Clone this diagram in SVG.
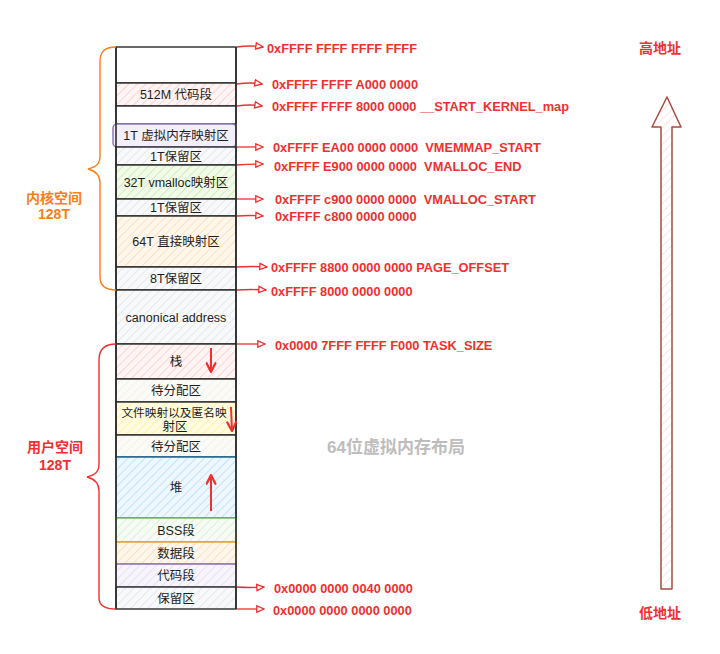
<svg xmlns="http://www.w3.org/2000/svg" width="720" height="654" viewBox="0 0 720 654">
<style>
.lbl{font-family:"Liberation Sans","Noto Sans CJK SC",sans-serif;font-size:12.5px;fill:#1e1e1e;text-anchor:middle}
.addr{font-family:"Liberation Sans","Noto Sans CJK SC",sans-serif;font-size:12.8px;fill:#f0302f;font-weight:bold;white-space:pre}
.seg{stroke:#2b2b2b;stroke-width:1.4}
.ca{fill:none;stroke:#f0302f;stroke-width:1.3}
.ia{fill:none;stroke:#f0302f;stroke-width:2}
.side{font-family:"Liberation Sans","Noto Sans CJK SC",sans-serif;font-size:14px;font-weight:bold;text-anchor:middle}
</style>
<defs>
<pattern id="hPink" width="6" height="6" patternUnits="userSpaceOnUse" patternTransform="rotate(45)"><rect width="6" height="6" fill="#fff5f5"/><line x1="0" y1="0" x2="0" y2="6" stroke="#ffc9c9" stroke-width="1.6"/></pattern>
<pattern id="hGray" width="6" height="6" patternUnits="userSpaceOnUse" patternTransform="rotate(45)"><rect width="6" height="6" fill="#f8f9fa"/><line x1="0" y1="0" x2="0" y2="6" stroke="#dee2e6" stroke-width="1.4"/></pattern>
<pattern id="hLight" width="6" height="6" patternUnits="userSpaceOnUse" patternTransform="rotate(45)"><rect width="6" height="6" fill="#fbfaf6"/><line x1="0" y1="0" x2="0" y2="6" stroke="#efefe9" stroke-width="1.4"/></pattern>
<pattern id="hGreen" width="6" height="6" patternUnits="userSpaceOnUse" patternTransform="rotate(45)"><rect width="6" height="6" fill="#f2fbe9"/><line x1="0" y1="0" x2="0" y2="6" stroke="#c9eab0" stroke-width="1.6"/></pattern>
<pattern id="hGreen2" width="6" height="6" patternUnits="userSpaceOnUse" patternTransform="rotate(45)"><rect width="6" height="6" fill="#f6fbf4"/><line x1="0" y1="0" x2="0" y2="6" stroke="#d6ecd2" stroke-width="1.4"/></pattern>
<pattern id="hOrange" width="6" height="6" patternUnits="userSpaceOnUse" patternTransform="rotate(45)"><rect width="6" height="6" fill="#fff6ec"/><line x1="0" y1="0" x2="0" y2="6" stroke="#ffdcb6" stroke-width="1.6"/></pattern>
<pattern id="hYellow" width="6" height="6" patternUnits="userSpaceOnUse" patternTransform="rotate(45)"><rect width="6" height="6" fill="#fffbe0"/><line x1="0" y1="0" x2="0" y2="6" stroke="#fff099" stroke-width="1.6"/></pattern>
<pattern id="hBlue" width="6" height="6" patternUnits="userSpaceOnUse" patternTransform="rotate(45)"><rect width="6" height="6" fill="#eef7ff"/><line x1="0" y1="0" x2="0" y2="6" stroke="#b9ddf7" stroke-width="1.6"/></pattern>
<pattern id="hPurple" width="6" height="6" patternUnits="userSpaceOnUse" patternTransform="rotate(45)"><rect width="6" height="6" fill="#f7f4fc"/><line x1="0" y1="0" x2="0" y2="6" stroke="#e2dbf0" stroke-width="1.4"/></pattern>
<pattern id="hRose" width="6" height="6" patternUnits="userSpaceOnUse" patternTransform="rotate(45)"><rect width="6" height="6" fill="#fff"/><line x1="0" y1="0" x2="0" y2="6" stroke="#ffe0e0" stroke-width="1.8"/></pattern>
<marker id="ah" viewBox="0 0 10 10" refX="9" refY="5" markerWidth="9" markerHeight="9" markerUnits="userSpaceOnUse" orient="auto"><path d="M1,1.5 L9,5 L1,8.5 Z" fill="#fff" stroke="#f0302f" stroke-width="1.5"/></marker>
<marker id="ih" viewBox="0 0 10 10" refX="9" refY="5" markerWidth="11" markerHeight="11" markerUnits="userSpaceOnUse" orient="auto"><path d="M1,1 L9,5 L1,9" fill="none" stroke="#f0302f" stroke-width="2" stroke-linecap="round" stroke-linejoin="round"/></marker>
</defs>
<rect width="720" height="654" fill="#ffffff"/>

<g id="seg-top"><rect class="seg" x="116" y="47" width="120" height="36" fill="#ffffff"/></g>
<g id="seg-kcode"><rect class="seg" x="116" y="83" width="120" height="23" fill="url(#hPink)"/><text class="lbl" x="176" y="99">512M 代码段</text></g>
<g id="seg-gap"><rect class="seg" x="116" y="106" width="120" height="18" fill="#ffffff"/></g>
<g id="seg-vmemmap"><rect x="113" y="124" width="123" height="23" rx="4" fill="#f2eefa" stroke="#8f7ab8" stroke-width="1.5"/><text class="lbl" x="176" y="140">1T 虚拟内存映射区</text></g>
<g id="seg-rsv1"><rect class="seg" x="116" y="147" width="120" height="18" fill="url(#hGray)"/><text class="lbl" x="176" y="161">1T保留区</text></g>
<g id="seg-vmalloc"><rect class="seg" x="116" y="165" width="120" height="34" fill="url(#hGreen)"/><text class="lbl" x="176" y="187">32T vmalloc映射区</text></g>
<g id="seg-rsv2"><rect class="seg" x="116" y="199" width="120" height="17" fill="url(#hGray)"/><text class="lbl" x="176" y="212">1T保留区</text></g>
<g id="seg-direct"><rect class="seg" x="116" y="216" width="120" height="51" fill="url(#hOrange)"/><text class="lbl" x="176" y="246">64T 直接映射区</text></g>
<g id="seg-rsv8"><rect class="seg" x="116" y="267" width="120" height="23" fill="url(#hGray)"/><text class="lbl" x="176" y="283">8T保留区</text></g>
<g id="seg-canonical"><rect class="seg" x="116" y="290" width="120" height="54" fill="url(#hGray)"/><text class="lbl" x="176" y="322">canonical address</text></g>
<g id="seg-stack"><rect class="seg" x="116" y="344" width="120" height="35" fill="url(#hPink)"/><text class="lbl" x="176" y="366">栈</text></g>
<g id="seg-free1"><rect class="seg" x="116" y="379" width="120" height="23" fill="url(#hLight)"/><text class="lbl" x="176" y="395">待分配区</text></g>
<g id="seg-mmap"><rect class="seg" x="116" y="402" width="120" height="33" fill="url(#hYellow)"/><text class="lbl" x="174" y="417" style="font-size:11.7px">文件映射以及匿名映</text><text class="lbl" x="175" y="431">射区</text></g>
<g id="seg-free2"><rect class="seg" x="116" y="435" width="120" height="22" fill="url(#hLight)"/><text class="lbl" x="176" y="451">待分配区</text></g>
<g id="seg-heap"><rect x="116" y="457" width="120" height="61" fill="url(#hBlue)" stroke="#1f6d96" stroke-width="1.5"/><text class="lbl" x="176" y="492">堆</text></g>
<g id="seg-bss"><rect x="116" y="518" width="120" height="24" fill="url(#hGreen2)" stroke="#7cb56c" stroke-width="1.5"/><text class="lbl" x="176" y="535">BSS段</text></g>
<g id="seg-data"><rect x="116" y="542" width="120" height="22" fill="url(#hOrange)" stroke="#e6a23a" stroke-width="1.5"/><text class="lbl" x="176" y="558">数据段</text></g>
<g id="seg-ucode"><rect x="116" y="564" width="120" height="23" fill="url(#hPurple)" stroke="#8b72b8" stroke-width="1.5"/><text class="lbl" x="176" y="580">代码段</text></g>
<g id="seg-rsv0"><rect class="seg" x="116" y="587" width="120" height="22" fill="url(#hGray)"/><text class="lbl" x="176" y="603">保留区</text></g>
<g id="outline"><path d="M116,47 L116,609 M236,47 L236,609" fill="none" stroke="#2b2b2b" stroke-width="1.6"/></g>

<g id="addr-labels">
<text class="addr" x="267" y="53">0xFFFF FFFF FFFF FFFF</text>
<text class="addr" x="272" y="89">0xFFFF FFFF A000 0000</text>
<text class="addr" x="272" y="111">0xFFFF FFFF 8000 0000 __START_KERNEL_map</text>
<text class="addr" x="273" y="152">0xFFFF EA00 0000 0000  VMEMMAP_START</text>
<text class="addr" x="274" y="171">0xFFFF E900 0000 0000  VMALLOC_END</text>
<text class="addr" x="275" y="204">0xFFFF c900 0000 0000  VMALLOC_START</text>
<text class="addr" x="275" y="221">0xFFFF c800 0000 0000</text>
<text class="addr" x="271" y="272">0xFFFF 8800 0000 0000 PAGE_OFFSET</text>
<text class="addr" x="271" y="296">0xFFFF 8000 0000 0000</text>
<text class="addr" x="275" y="350">0x0000 7FFF FFFF F000 TASK_SIZE</text>
<text class="addr" x="274" y="593">0x0000 0000 0040 0000</text>
<text class="addr" x="273" y="615">0x0000 0000 0000 0000</text>
</g>

<g id="connectors">
<path class="ca" marker-end="url(#ah)" d="M237,47 Q250,45 263,47"/>
<path class="ca" marker-end="url(#ah)" d="M237,84 Q250,82 262,84"/>
<path class="ca" marker-end="url(#ah)" d="M237,106 Q250,104 262,106"/>
<path class="ca" marker-end="url(#ah)" d="M237,147 Q250,147 263,147"/>
<path class="ca" marker-end="url(#ah)" d="M237,165 Q250,164 263,164"/>
<path class="ca" marker-end="url(#ah)" d="M237,199 Q250,199 263,199"/>
<path class="ca" marker-end="url(#ah)" d="M237,216 Q250,215 263,216"/>
<path class="ca" marker-end="url(#ah)" d="M237,267 Q252,266 267,267"/>
<path class="ca" marker-end="url(#ah)" d="M237,290 Q251,289 266,290"/>
<path class="ca" marker-end="url(#ah)" d="M237,344 Q251,344 265,344"/>
<path class="ca" marker-end="url(#ah)" d="M237,587 Q250,588 264,587"/>
<path class="ca" marker-end="url(#ah)" d="M237,609 Q250,609 264,609"/>
<path class="ia" marker-end="url(#ih)" d="M211,348 L211,372"/>
<path class="ia" marker-end="url(#ih)" d="M231,407 L232,431"/>
<path class="ia" marker-end="url(#ih)" d="M211,511 L211,475"/>
<path d="M116,47 C104,47 100,52 100,62 L100,156 C100,164 96,167 88,169 C96,171 100,175 100,183 L100,277 C100,286 106,290 116,290" fill="none" stroke="#fd7e14" stroke-width="1.4"/>
<path d="M116,344 C104,344 99,350 99,360 L99,464 C99,472 95,475 87,477 C95,479 99,483 99,491 L99,598 C99,606 106,609 116,609" fill="none" stroke="#f0302f" stroke-width="1.4"/>
</g>

<g id="side-labels">
<text class="side" x="54" y="203" fill="#fd7e14">内核空间</text>
<text class="side" x="54" y="219" fill="#fd7e14">128T</text>
<text class="side" x="55" y="452" fill="#f0302f">用户空间</text>
<text class="side" x="55" y="470" fill="#f0302f">128T</text>
</g>

<g id="direction-arrow">
<polygon points="667,97 681,127 672,127 672,589 661,589 661,127 652,127" fill="url(#hRose)" stroke="#a84a42" stroke-width="1.5" stroke-linejoin="round"/>
<text class="side" x="660" y="53" fill="#f0302f">高地址</text>
<text class="side" x="660" y="618" fill="#f0302f">低地址</text>
</g>

<g id="title"><text x="396" y="453" font-family="Liberation Sans,'Noto Sans CJK SC',sans-serif" font-size="17" font-weight="bold" fill="#bdbdbd" text-anchor="middle">64位虚拟内存布局</text></g>
</svg>
